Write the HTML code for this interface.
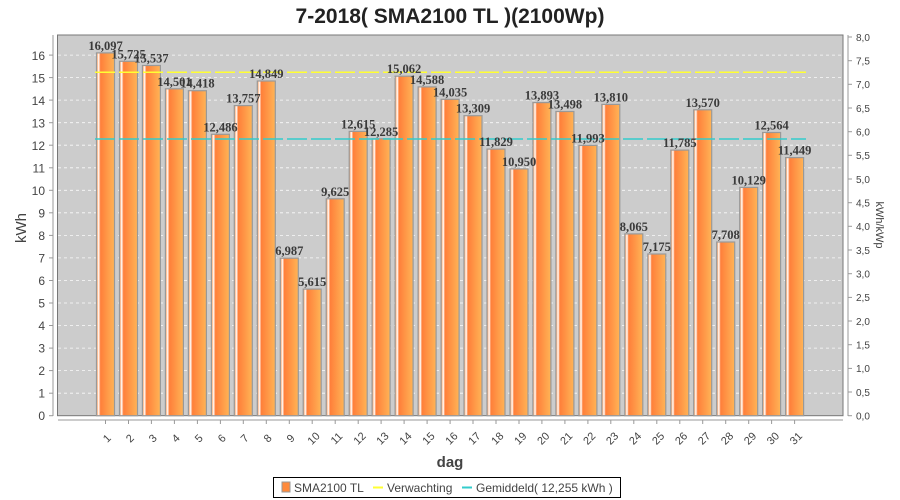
<!DOCTYPE html>
<html><head><meta charset="utf-8"><style>
html,body{margin:0;padding:0;background:#fff;}
svg{display:block;font-family:"Liberation Sans",sans-serif;}
.v{font-family:"Liberation Serif",serif;font-weight:bold;font-size:12.5px;fill:#3a3a3a;text-anchor:middle;}
.tl{font-size:12px;fill:#444;text-anchor:end;}
.tr{font-size:10px;fill:#444;}
.tx{font-size:11px;fill:#444;text-anchor:middle;}
</style></head><body>
<svg width="900" height="500" viewBox="0 0 900 500">
<defs>
<linearGradient id="g" x1="0" x2="1" y1="0" y2="0">
<stop offset="0" stop-color="#ff8a3c"/><stop offset="0.12" stop-color="#ffffff"/><stop offset="0.22" stop-color="#ff7f3a"/><stop offset="1" stop-color="#ffb456"/>
</linearGradient>
</defs>
<text x="450" y="23" text-anchor="middle" font-size="21" font-weight="bold" fill="#222">7-2018( SMA2100 TL )(2100Wp)</text>
<rect x="57.5" y="35" width="785.5" height="380.7" fill="#cccccc" stroke="#777" stroke-width="1"/>
<g stroke="#fff" stroke-dasharray="3,3" stroke-width="0.8" opacity="0.9">
<line x1="58" x2="843" y1="393.2" y2="393.2"/><line x1="58" x2="843" y1="370.6" y2="370.6"/><line x1="58" x2="843" y1="348.1" y2="348.1"/><line x1="58" x2="843" y1="325.5" y2="325.5"/><line x1="58" x2="843" y1="303" y2="303"/><line x1="58" x2="843" y1="280.5" y2="280.5"/><line x1="58" x2="843" y1="257.9" y2="257.9"/><line x1="58" x2="843" y1="235.4" y2="235.4"/><line x1="58" x2="843" y1="212.8" y2="212.8"/><line x1="58" x2="843" y1="190.3" y2="190.3"/><line x1="58" x2="843" y1="167.8" y2="167.8"/><line x1="58" x2="843" y1="145.2" y2="145.2"/><line x1="58" x2="843" y1="122.7" y2="122.7"/><line x1="58" x2="843" y1="100.1" y2="100.1"/><line x1="58" x2="843" y1="77.6" y2="77.6"/><line x1="58" x2="843" y1="55.1" y2="55.1"/>
</g>
<g fill="url(#g)" stroke="#999" stroke-width="1.2">
<rect x="96.5" y="52.9" width="18" height="362.8"/>
<rect x="119.5" y="61.3" width="18" height="354.4"/>
<rect x="142.4" y="65.5" width="18" height="350.2"/>
<rect x="165.4" y="88.8" width="18" height="326.9"/>
<rect x="188.4" y="90.7" width="18" height="325"/>
<rect x="211.4" y="134.3" width="18" height="281.4"/>
<rect x="234.3" y="105.6" width="18" height="310.1"/>
<rect x="257.3" y="81" width="18" height="334.7"/>
<rect x="280.3" y="258.2" width="18" height="157.5"/>
<rect x="303.2" y="289.1" width="18" height="126.6"/>
<rect x="326.2" y="198.8" width="18" height="216.9"/>
<rect x="349.2" y="131.4" width="18" height="284.3"/>
<rect x="372.1" y="138.8" width="18" height="276.9"/>
<rect x="395.1" y="76.2" width="18" height="339.5"/>
<rect x="418.1" y="86.9" width="18" height="328.8"/>
<rect x="441.1" y="99.3" width="18" height="316.4"/>
<rect x="464" y="115.7" width="18" height="300"/>
<rect x="487" y="149.1" width="18" height="266.6"/>
<rect x="510" y="168.9" width="18" height="246.8"/>
<rect x="532.9" y="102.6" width="18" height="313.1"/>
<rect x="555.9" y="111.5" width="18" height="304.2"/>
<rect x="578.9" y="145.4" width="18" height="270.3"/>
<rect x="601.8" y="104.4" width="18" height="311.3"/>
<rect x="624.8" y="233.9" width="18" height="181.8"/>
<rect x="647.8" y="254" width="18" height="161.7"/>
<rect x="670.8" y="150.1" width="18" height="265.6"/>
<rect x="693.7" y="109.8" width="18" height="305.9"/>
<rect x="716.7" y="242" width="18" height="173.7"/>
<rect x="739.7" y="187.4" width="18" height="228.3"/>
<rect x="762.6" y="132.5" width="18" height="283.2"/>
<rect x="785.6" y="157.6" width="18" height="258.1"/>
</g>
<line x1="95" x2="806" y1="72.3" y2="72.3" stroke="#ffff33" stroke-width="1.5" stroke-dasharray="20,4"/>
<line x1="95" x2="806" y1="139" y2="139" stroke="#33cccc" stroke-width="1.5" stroke-dasharray="20,4"/>
<g class="v">
<text x="105.5" y="49.9">16,097</text><text x="128.5" y="58.3">15,725</text><text x="151.4" y="62.5">15,537</text><text x="174.4" y="85.8">14,501</text><text x="197.4" y="87.7">14,418</text><text x="220.4" y="131.3">12,486</text><text x="243.3" y="102.6">13,757</text><text x="266.3" y="78">14,849</text><text x="289.3" y="255.2">6,987</text><text x="312.2" y="286.1">5,615</text><text x="335.2" y="195.8">9,625</text><text x="358.2" y="128.4">12,615</text><text x="381.1" y="135.8">12,285</text><text x="404.1" y="73.2">15,062</text><text x="427.1" y="83.9">14,588</text><text x="450.1" y="96.3">14,035</text><text x="473" y="112.7">13,309</text><text x="496" y="146.1">11,829</text><text x="519" y="165.9">10,950</text><text x="541.9" y="99.6">13,893</text><text x="564.9" y="108.5">13,498</text><text x="587.9" y="142.4">11,993</text><text x="610.8" y="101.4">13,810</text><text x="633.8" y="230.9">8,065</text><text x="656.8" y="251">7,175</text><text x="679.8" y="147.1">11,785</text><text x="702.7" y="106.8">13,570</text><text x="725.7" y="239">7,708</text><text x="748.7" y="184.4">10,129</text><text x="771.6" y="129.5">12,564</text><text x="794.6" y="154.6">11,449</text>
</g>
<g stroke="#999" stroke-width="1">
<line x1="53" x2="53" y1="35" y2="416"/>
<line x1="58" x2="843" y1="420" y2="420"/>
<line x1="848" x2="848" y1="35" y2="416"/>
</g>
<g stroke="#999" stroke-width="1">
<line x1="105.5" x2="105.5" y1="420" y2="424"/><line x1="128.5" x2="128.5" y1="420" y2="424"/><line x1="151.4" x2="151.4" y1="420" y2="424"/><line x1="174.4" x2="174.4" y1="420" y2="424"/><line x1="197.4" x2="197.4" y1="420" y2="424"/><line x1="220.4" x2="220.4" y1="420" y2="424"/><line x1="243.3" x2="243.3" y1="420" y2="424"/><line x1="266.3" x2="266.3" y1="420" y2="424"/><line x1="289.3" x2="289.3" y1="420" y2="424"/><line x1="312.2" x2="312.2" y1="420" y2="424"/><line x1="335.2" x2="335.2" y1="420" y2="424"/><line x1="358.2" x2="358.2" y1="420" y2="424"/><line x1="381.1" x2="381.1" y1="420" y2="424"/><line x1="404.1" x2="404.1" y1="420" y2="424"/><line x1="427.1" x2="427.1" y1="420" y2="424"/><line x1="450.1" x2="450.1" y1="420" y2="424"/><line x1="473" x2="473" y1="420" y2="424"/><line x1="496" x2="496" y1="420" y2="424"/><line x1="519" x2="519" y1="420" y2="424"/><line x1="541.9" x2="541.9" y1="420" y2="424"/><line x1="564.9" x2="564.9" y1="420" y2="424"/><line x1="587.9" x2="587.9" y1="420" y2="424"/><line x1="610.8" x2="610.8" y1="420" y2="424"/><line x1="633.8" x2="633.8" y1="420" y2="424"/><line x1="656.8" x2="656.8" y1="420" y2="424"/><line x1="679.8" x2="679.8" y1="420" y2="424"/><line x1="702.7" x2="702.7" y1="420" y2="424"/><line x1="725.7" x2="725.7" y1="420" y2="424"/><line x1="748.7" x2="748.7" y1="420" y2="424"/><line x1="771.6" x2="771.6" y1="420" y2="424"/><line x1="794.6" x2="794.6" y1="420" y2="424"/>
<line x1="49" x2="53" y1="415.7" y2="415.7"/><line x1="49" x2="53" y1="393.2" y2="393.2"/><line x1="49" x2="53" y1="370.6" y2="370.6"/><line x1="49" x2="53" y1="348.1" y2="348.1"/><line x1="49" x2="53" y1="325.5" y2="325.5"/><line x1="49" x2="53" y1="303" y2="303"/><line x1="49" x2="53" y1="280.5" y2="280.5"/><line x1="49" x2="53" y1="257.9" y2="257.9"/><line x1="49" x2="53" y1="235.4" y2="235.4"/><line x1="49" x2="53" y1="212.8" y2="212.8"/><line x1="49" x2="53" y1="190.3" y2="190.3"/><line x1="49" x2="53" y1="167.8" y2="167.8"/><line x1="49" x2="53" y1="145.2" y2="145.2"/><line x1="49" x2="53" y1="122.7" y2="122.7"/><line x1="49" x2="53" y1="100.1" y2="100.1"/><line x1="49" x2="53" y1="77.6" y2="77.6"/><line x1="49" x2="53" y1="55.1" y2="55.1"/>
<line x1="848" x2="852" y1="415.7" y2="415.7"/><line x1="848" x2="852" y1="392" y2="392"/><line x1="848" x2="852" y1="368.4" y2="368.4"/><line x1="848" x2="852" y1="344.7" y2="344.7"/><line x1="848" x2="852" y1="321" y2="321"/><line x1="848" x2="852" y1="297.4" y2="297.4"/><line x1="848" x2="852" y1="273.7" y2="273.7"/><line x1="848" x2="852" y1="250" y2="250"/><line x1="848" x2="852" y1="226.3" y2="226.3"/><line x1="848" x2="852" y1="202.7" y2="202.7"/><line x1="848" x2="852" y1="179" y2="179"/><line x1="848" x2="852" y1="155.3" y2="155.3"/><line x1="848" x2="852" y1="131.7" y2="131.7"/><line x1="848" x2="852" y1="108" y2="108"/><line x1="848" x2="852" y1="84.3" y2="84.3"/><line x1="848" x2="852" y1="60.7" y2="60.7"/><line x1="848" x2="852" y1="37" y2="37"/>
</g>
<g class="tl">
<text x="45" y="420">0</text><text x="45" y="397.5">1</text><text x="45" y="375">2</text><text x="45" y="352.5">3</text><text x="45" y="330">4</text><text x="45" y="307.5">5</text><text x="45" y="285">6</text><text x="45" y="262.5">7</text><text x="45" y="240">8</text><text x="45" y="217.5">9</text><text x="45" y="195">10</text><text x="45" y="172.5">11</text><text x="45" y="150">12</text><text x="45" y="127.5">13</text><text x="45" y="105">14</text><text x="45" y="82.5">15</text><text x="45" y="60">16</text>
</g>
<g class="tr">
<text x="856" y="419.5">0,0</text><text x="856" y="395.8">0,5</text><text x="856" y="372.2">1,0</text><text x="856" y="348.5">1,5</text><text x="856" y="324.8">2,0</text><text x="856" y="301.2">2,5</text><text x="856" y="277.5">3,0</text><text x="856" y="253.8">3,5</text><text x="856" y="230.1">4,0</text><text x="856" y="206.5">4,5</text><text x="856" y="182.8">5,0</text><text x="856" y="159.1">5,5</text><text x="856" y="135.5">6,0</text><text x="856" y="111.8">6,5</text><text x="856" y="88.1">7,0</text><text x="856" y="64.5">7,5</text><text x="856" y="40.8">8,0</text>
</g>
<g class="tx">
<text transform="translate(109.5,441) rotate(-45)">1</text><text transform="translate(132.5,441) rotate(-45)">2</text><text transform="translate(155.4,441) rotate(-45)">3</text><text transform="translate(178.4,441) rotate(-45)">4</text><text transform="translate(201.4,441) rotate(-45)">5</text><text transform="translate(224.4,441) rotate(-45)">6</text><text transform="translate(247.3,441) rotate(-45)">7</text><text transform="translate(270.3,441) rotate(-45)">8</text><text transform="translate(293.3,441) rotate(-45)">9</text><text transform="translate(316.2,441) rotate(-45)">10</text><text transform="translate(339.2,441) rotate(-45)">11</text><text transform="translate(362.2,441) rotate(-45)">12</text><text transform="translate(385.1,441) rotate(-45)">13</text><text transform="translate(408.1,441) rotate(-45)">14</text><text transform="translate(431.1,441) rotate(-45)">15</text><text transform="translate(454.1,441) rotate(-45)">16</text><text transform="translate(477,441) rotate(-45)">17</text><text transform="translate(500,441) rotate(-45)">18</text><text transform="translate(523,441) rotate(-45)">19</text><text transform="translate(545.9,441) rotate(-45)">20</text><text transform="translate(568.9,441) rotate(-45)">21</text><text transform="translate(591.9,441) rotate(-45)">22</text><text transform="translate(614.8,441) rotate(-45)">23</text><text transform="translate(637.8,441) rotate(-45)">24</text><text transform="translate(660.8,441) rotate(-45)">25</text><text transform="translate(683.8,441) rotate(-45)">26</text><text transform="translate(706.7,441) rotate(-45)">27</text><text transform="translate(729.7,441) rotate(-45)">28</text><text transform="translate(752.7,441) rotate(-45)">29</text><text transform="translate(775.6,441) rotate(-45)">30</text><text transform="translate(798.6,441) rotate(-45)">31</text>
</g>
<text transform="translate(26,228) rotate(-90)" text-anchor="middle" font-size="15" fill="#444">kWh</text>
<text transform="translate(876,225) rotate(90)" text-anchor="middle" font-size="11" fill="#444">kWh/kWp</text>
<text x="450" y="467" text-anchor="middle" font-size="15" font-weight="bold" fill="#444">dag</text>
<rect x="273.5" y="477.5" width="347" height="20" fill="#fff" stroke="#000" stroke-width="1"/>
<rect x="282" y="482" width="8" height="10" fill="#ff8a3c" stroke="#999"/>
<text x="294" y="492" font-size="12" fill="#444">SMA2100 TL</text>
<line x1="373" x2="383" y1="487.5" y2="487.5" stroke="#ffff33" stroke-width="2"/>
<text x="387" y="492" font-size="12" fill="#444">Verwachting</text>
<line x1="462" x2="472" y1="487.5" y2="487.5" stroke="#33cccc" stroke-width="2"/>
<text x="476" y="492" font-size="12" fill="#444">Gemiddeld( 12,255 kWh )</text>
</svg>
</body></html>
